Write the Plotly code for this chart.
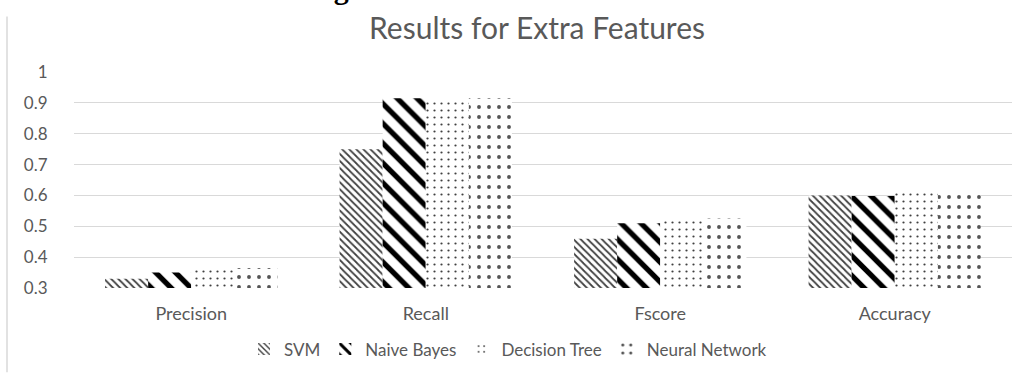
import plotly.graph_objects as go

# Metrics on the x axis and scores for each classifier
categories = ["Precision", "Recall", "Fscore", "Accuracy"]
svm = [0.33, 0.75, 0.46, 0.60]
naive_bayes = [0.35, 0.915, 0.51, 0.598]
decision_tree = [0.365, 0.915, 0.525, 0.62]
neural_network = [0.365, 0.915, 0.525, 0.62]

y_ticks = [0.3, 0.4, 0.5, 0.6, 0.7, 0.8, 0.9, 1]
y_tick_text = ["0.3", "0.4", "0.5", "0.6", "0.7", "0.8", "0.9", "1"]

W, H = 1020, 375
ML, MR, MT, MB = 74, 8, 72, 85
PW, PH = W - ML - MR, H - MT - MB

TEXT = "#595959"
GRID = "#d9d9d9"
FONT = "Lato, 'Open Sans', sans-serif"

series = [
    ("SVM", svm, dict(shape="\\", size=5, solidity=0.35, fgcolor="#404040")),
    ("Naive Bayes", naive_bayes, dict(shape="\\", size=14, solidity=0.38, fgcolor="#000000")),
    ("Decision Tree", decision_tree, dict(shape=".", size=7, solidity=0.08, fgcolor="#404040")),
    ("Neural Network", neural_network, dict(shape=".", size=10, solidity=0.12, fgcolor="#555555")),
]

fig = go.Figure()
for name, vals, pat in series:
    fig.add_trace(go.Bar(
        name=name,
        x=categories,
        y=vals,
        marker=dict(
            color="white",
            line=dict(width=0),
            pattern=dict(bgcolor="white", fillmode="replace", **pat),
        ),
    ))

fig.update_layout(
    width=W, height=H,
    margin=dict(l=ML, r=MR, t=MT, b=MB, pad=0),
    paper_bgcolor="white", plot_bgcolor="white",
    barmode="group", bargap=0.265, bargroupgap=0,
    font=dict(family=FONT, color=TEXT, size=17),
    showlegend=True,
    legend=dict(
        orientation="h", x=(508 - ML) / PW, xanchor="center",
        y=(0 - (352 - (MT + PH))) / PH, yanchor="middle",
        font=dict(size=17, color=TEXT),
        itemwidth=30, traceorder="normal",
        bgcolor="rgba(0,0,0,0)",
    ),
)

fig.update_xaxes(
    showgrid=False, showline=False, zeroline=False,
    ticks="outside", ticklen=9, tickcolor="rgba(0,0,0,0)",
    tickfont=dict(size=18, color=TEXT),
)
fig.update_yaxes(
    range=[0.3, 1.0], tickvals=y_ticks, ticktext=y_tick_text,
    showgrid=True, gridcolor=GRID, gridwidth=1,
    showline=False, zeroline=False,
    ticks="outside", ticklen=22, tickcolor="rgba(0,0,0,0)",
    tickfont=dict(size=17, color=TEXT),
)

# Chart title
fig.add_annotation(
    text="Results for Extra Features",
    xref="paper", yref="paper",
    x=(537 - ML) / PW, y=(MT + PH - 27) / PH,
    xanchor="center", yanchor="middle", showarrow=False,
    font=dict(family=FONT, size=30, color=TEXT),
)

# Document caption running above the chart frame
fig.add_annotation(
    text="<b>Figure 6: Results for Extra Features</b>",
    xref="paper", yref="paper",
    x=(538 - ML) / PW, y=(MT + PH - 6) / PH,
    xanchor="center", yanchor="bottom", showarrow=False,
    font=dict(family="'Liberation Serif', serif", size=30, color="#000000"),
)

# Left edge of the chart frame
fig.add_shape(
    type="line", xref="paper", yref="paper",
    x0=(7 - ML) / PW, x1=(7 - ML) / PW,
    y0=(MT + PH - H) / PH, y1=(MT + PH - 16) / PH,
    line=dict(color=GRID, width=1.5),
)

fig.write_html("out.html")
